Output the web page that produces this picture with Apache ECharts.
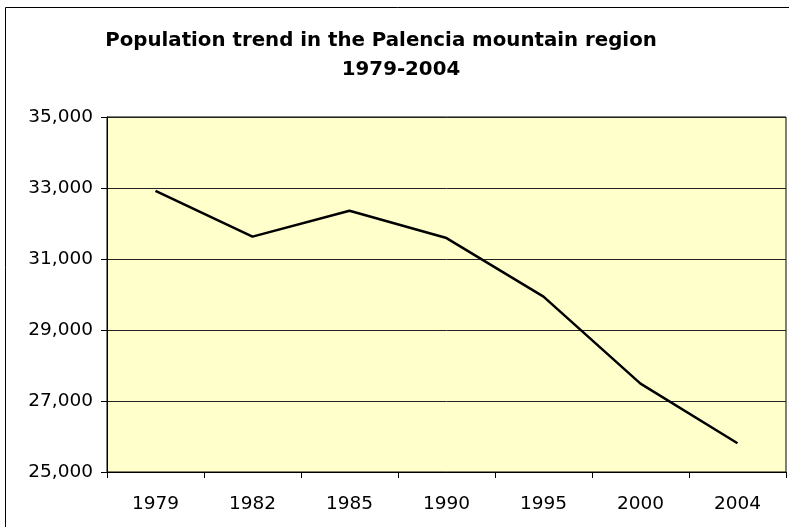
<!DOCTYPE html>
<html>
<head>
<meta charset="utf-8">
<script src="https://cdn.jsdelivr.net/npm/echarts@6/dist/echarts.min.js"></script>
<style>
  html, body { margin: 0; padding: 0; background: #fff; }
  #chart { width: 789px; height: 527px; }
</style>
</head>
<body>
<div id="chart"></div>
<script>
// 数据
const years = ['1979', '1982', '1985', '1990', '1995', '2000', '2004'];
const population = [32920, 31630, 32360, 31590, 29940, 27490, 25810];
const yTicks = [25000, 27000, 29000, 31000, 33000, 35000];

const font = 'DejaVu Sans, Verdana, sans-serif';

const chart = echarts.init(document.getElementById('chart'));

chart.setOption({
  backgroundColor: '#fff',
  animation: false,
  title: [
    {
      text: 'Population trend in the Palencia mountain region',
      left: 376,
      top: 26,
      textAlign: 'center',
      textStyle: { fontFamily: font, fontSize: 19.8, fontWeight: 'bold', color: '#000' }
    },
    {
      text: '1979-2004',
      left: 396,
      top: 55,
      textAlign: 'center',
      textStyle: { fontFamily: font, fontSize: 19.8, fontWeight: 'bold', color: '#000' }
    }
  ],
  // 外框
  graphic: [
    {
      type: 'rect',
      shape: { x: 5.5, y: 7.5, width: 800, height: 600 },
      style: { fill: 'none', stroke: '#000', lineWidth: 1 },
      silent: true
    }
  ],
  grid: {
    left: 107,
    right: 3,
    top: 117,
    bottom: 55,
    show: true,
    backgroundColor: '#FFFFCC',
    borderColor: '#000',
    borderWidth: 1
  },
  xAxis: {
    type: 'category',
    data: years,
    boundaryGap: true,
    axisLine: { lineStyle: { color: '#000', width: 1 } },
    axisTick: { show: true, length: 6, lineStyle: { color: '#000' } },
    axisLabel: { fontFamily: font, fontSize: 18.5, color: '#000', margin: 23 }
  },
  yAxis: {
    type: 'value',
    min: yTicks[0],
    max: yTicks[yTicks.length - 1],
    interval: 2000,
    axisLine: { show: true, lineStyle: { color: '#000', width: 1 } },
    axisTick: { show: true, length: 6, lineStyle: { color: '#000' } },
    splitLine: { show: true, lineStyle: { color: '#222', width: 1 } },
    axisLabel: {
      fontFamily: font,
      fontSize: 18.5,
      color: '#000',
      margin: 14,
      formatter: v => v.toLocaleString('en-US')
    }
  },
  series: [
    {
      type: 'line',
      data: population,
      symbol: 'none',
      lineStyle: { color: '#000', width: 2.5 },
      itemStyle: { color: '#000' }
    }
  ]
});
</script>
</body>
</html>
